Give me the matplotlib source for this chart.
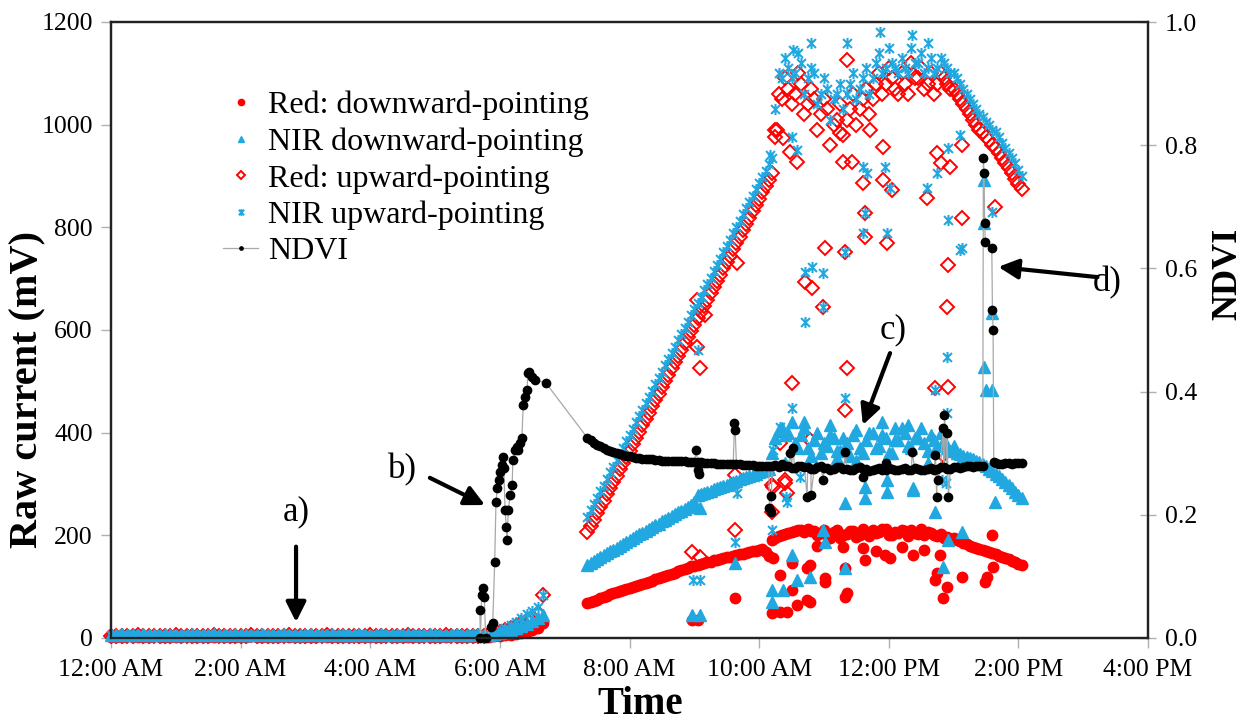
import numpy as np
import matplotlib.pyplot as plt
from matplotlib.path import Path
from matplotlib.lines import Line2D

plt.rcParams['font.family'] = ['Liberation Serif', 'DejaVu Serif']

# --- sampling instants (hours after midnight) ---
t_early = np.arange(81) / 12.0                     # every 5 min, 0:00 -> 6:40
t_day = np.round(7.35 + 0.05 * np.arange(135), 2)  # every 3 min, 7:21 -> 14:03

# --- night + dawn readings (mV) ---
red_down_early = [2, 2, 2, 3, 2, 2, 2, 2, 3, 2, 2, 2, 2, 2, 3, 2, 2, 2, 2, 2,
                  3, 2, 2, 2, 2, 2, 3, 2, 2, 2, 2, 2, 3, 2, 2, 2, 2, 2, 2, 3,
                  2, 2, 2, 2, 2, 3, 2, 2, 2, 2, 2, 3, 2, 2, 2, 2, 2, 2, 3, 2,
                  2, 2, 2, 3, 2, 2, 2, 2, 3, 2,
                  2, 3, 4, 5, 6, 8, 10, 12, 15, 20, 29]
nir_down_early = [6, 6, 7, 6, 6, 6, 7, 6, 6, 6, 7, 6, 6, 6, 6, 7, 6, 6, 6, 7,
                  6, 6, 6, 7, 6, 6, 6, 6, 7, 6, 6, 6, 7, 6, 6, 6, 6, 7, 6, 6,
                  6, 7, 6, 6, 6, 6, 7, 6, 6, 6, 7, 6, 6, 6, 6, 7, 6, 6, 6, 7,
                  6, 6, 6, 6, 7, 6, 6, 6, 7, 6,
                  6, 7, 9, 12, 15, 19, 23, 28, 33, 38, 45]
red_up_early = [4, 4, 3, 4, 4, 5, 4, 4, 3, 4, 4, 4, 5, 4, 4, 3, 4, 4, 4, 5,
                4, 4, 3, 4, 4, 4, 5, 4, 4, 4, 3, 4, 4, 5, 4, 4, 4, 3, 4, 4,
                5, 4, 4, 4, 3, 4, 4, 4, 5, 4, 4, 3, 4, 4, 4, 5, 4, 4, 4, 3,
                4, 4, 5, 4, 4, 4, 3, 4, 4, 4,
                8, 9, 11, 15, 19, 24, 29, 35, 41, 48, 84]
nir_up_early = [6, 7, 6, 6, 7, 6, 6, 6, 7, 6, 6, 7, 6, 6, 6, 7, 6, 6, 7, 6,
                6, 6, 7, 6, 6, 7, 6, 6, 6, 7, 6, 6, 7, 6, 6, 6, 7, 6, 6, 7,
                6, 6, 6, 7, 6, 6, 7, 6, 6, 6, 7, 6, 6, 7, 6, 6, 6, 7, 6, 6,
                7, 6, 6, 6, 7, 6, 6, 7, 6, 6,
                6, 10, 15, 20, 26, 32, 39, 46, 53, 60, 84]

# --- daytime readings (mV) on t_day ---
red_down_day = [68, 70, 73, 75, 78, 80, 82, 85, 87, 89,
                91, 94, 96, 98, 100, 102, 104, 106, 108, 110,
                112, 114, 116, 118, 120, 122, 124, 127, 130, 132,
                135, 137, 140, 141, 143, 145, 146, 148, 149, 151,
                152, 154, 155, 157, 158, 160, 161, 163, 164, 166,
                167, 169, 170, 172, 173, 168, 160, 190,
                195, 198, 200, 203, 205, 207, 208, 210, 210, 206,
                212, 208, 208, 200, 205, 210, 200, 195, 206, 210,
                195, 200, 203, 208, 208, 196, 200, 212, 205, 198,
                210, 204, 206, 212, 212, 200, 200, 207, 204, 210,
                208, 198, 210, 205, 203, 212, 200, 206, 205, 200,
                198, 202, 195, 196, 192, 194, 190, 188, 185, 183,
                180, 178, 176, 174, 172, 170, 168, 165, 163, 160,
                158, 155, 153, 150, 148, 145, 143]
nir_down_day = [142, 146, 150, 154, 157, 161, 165, 169, 172, 176,
                180, 184, 187, 191, 195, 199, 202, 205, 209, 213,
                216, 220, 223, 227, 230, 234, 237, 241, 245, 248,
                252, 256, 260, 264, 278, 280, 283, 285, 287, 290,
                292, 295, 297, 299, 301, 304, 306, 309, 311, 313,
                315, 318, 320, 323, 325, 328, 330, 360,
                390, 405, 410, 395, 400, 420, 380, 370, 395, 410,
                370, 355, 385, 400, 360, 380, 375, 395, 390, 365,
                365, 390, 380, 355, 395, 405, 370, 360, 385, 400,
                400, 370, 375, 395, 390, 360, 360, 385, 385, 410,
                400, 375, 370, 390, 390, 410, 380, 365, 395, 385,
                375, 400, 385, 370, 365, 375, 360, 358, 355, 352,
                350, 348, 345, 342, 338, 335, 330, 325, 320, 315,
                310, 304, 298, 292, 285, 278, 272]
red_up_day = [206, 218, 230, 243, 255, 267, 280, 292, 304, 316,
              329, 341, 353, 365, 378, 390, 402, 414, 427, 439,
              451, 463, 476, 488, 500, 512, 525, 537, 549, 561,
              574, 586, 598, 610, 623, 635, 647, 659, 672, 684,
              696, 708, 721, 733, 745, 757, 770, 782, 794, 806,
              819, 831, 843, 855, 868, 880, 892, 905,
              990, 1060, 1050, 1090, 1070, 1040, 1060, 1100, 1080, 1020,
              1040, 1070, 1050, 990, 1020, 1050, 1030, 960, 1000, 1010,
              1040, 980, 1010, 1030, 1060, 1000, 1030, 1050, 1070, 1020,
              1050, 1080, 1100, 1060, 1080, 1110, 1090, 1070, 1060, 1100,
              1080, 1060, 1120, 1090, 1090, 1110, 1070, 1080, 1100, 1060,
              1080, 1100, 1090, 1080, 1070, 1070, 1060, 1050, 1040, 1030,
              1020, 1010, 1000, 990, 985, 975, 970, 960, 955, 945,
              935, 925, 915, 905, 895, 885, 875]
nir_up_day = [236, 249, 261, 273, 286, 297, 310, 323, 334, 347,
              359, 371, 384, 396, 408, 420, 433, 445, 457, 469,
              482, 494, 506, 518, 531, 543, 555, 567, 580, 592,
              604, 616, 629, 641, 653, 665, 678, 690, 702, 714,
              727, 739, 751, 763, 776, 788, 800, 812, 825, 837,
              849, 861, 874, 886, 898, 910, 923, 935,
              1030, 1100, 1090, 1130, 1110, 1090, 1100, 1140, 1120, 1060,
              1090, 1110, 1100, 1040, 1060, 1090, 1070, 1010, 1050, 1060,
              1080, 1030, 1060, 1080, 1100, 1050, 1070, 1090, 1110, 1060,
              1090, 1120, 1140, 1100, 1110, 1150, 1120, 1110, 1100, 1130,
              1110, 1100, 1150, 1120, 1120, 1140, 1100, 1110, 1130, 1100,
              1110, 1130, 1120, 1110, 1100, 1100, 1090, 1080, 1070, 1060,
              1050, 1040, 1030, 1020, 1015, 1005, 1000, 990, 985, 975,
              965, 955, 945, 935, 925, 912, 900]

# --- scattered readings away from the main curves (hour, mV) ---
red_down_out_t = [8.97, 9.06, 9.63, 10.20, 10.32, 10.43, 10.59, 10.74, 10.79, 10.51,
                  10.32, 10.79, 10.74, 11.02, 11.02, 11.33, 11.36, 11.33, 10.22, 10.51,
                  11.64, 11.94, 12.02, 12.38, 12.75, 12.72, 12.90, 12.84, 13.13, 13.49,
                  13.61, 13.60, 13.52, 12.79, 11.30, 11.60, 10.90, 11.80, 12.20, 12.55]
red_down_out_v = [35, 35, 78, 49, 51, 51, 64, 74, 70, 94,
                  123, 142, 136, 117, 109, 80, 88, 136, 156, 146,
                  152, 162, 156, 162, 127, 113, 99, 78, 119, 109,
                  138, 201, 119, 162, 177, 175, 180, 170, 178, 172]
nir_down_out_t = [8.97, 9.09, 9.09, 9.63, 10.20, 10.20, 10.37, 10.59, 10.79, 10.51,
                  10.99, 11.02, 11.33, 11.33, 11.64, 11.98, 12.38, 12.72, 12.84, 12.92,
                  13.13, 11.64, 11.98, 12.38, 13.47, 13.47, 13.47, 13.50, 13.60, 13.60,
                  13.64, 10.40, 10.70, 11.10, 11.50, 11.90, 12.30, 12.60, 12.10, 11.20]
nir_down_out_v = [45, 45, 253, 146, 94, 70, 94, 113, 119, 162,
                  210, 187, 136, 263, 273, 284, 288, 245, 138, 191,
                  206, 294, 308, 292, 892, 808, 528, 483, 633, 483,
                  265, 340, 420, 415, 345, 420, 415, 340, 410, 350]
red_up_out_t = [8.97, 9.09, 9.04, 9.17, 9.04, 9.09, 9.63, 9.63, 9.66, 10.20,
                10.20, 10.22, 10.40, 10.43, 10.40, 10.32, 10.28, 10.25, 10.37, 10.48,
                10.59, 10.51, 10.71, 10.82, 10.79, 10.99, 11.02, 11.33, 11.33, 11.36,
                11.36, 11.60, 11.64, 11.64, 11.98, 11.91, 12.05, 12.59, 12.75, 12.95,
                12.84, 12.72, 12.92, 12.90, 12.92, 13.13, 13.13, 13.64, 11.25, 11.30,
                11.44, 11.91, 11.71, 12.80]
red_up_out_v = [168, 158, 658, 629, 567, 526, 318, 210, 730, 245,
                298, 294, 302, 282, 308, 380, 990, 976, 974, 947,
                927, 497, 694, 682, 386, 645, 760, 752, 444, 526,
                1126, 886, 828, 781, 769, 892, 873, 857, 945, 918,
                356, 487, 489, 645, 727, 818, 960, 840, 984, 927,
                927, 956, 990, 925]
nir_up_out_t = [8.98, 9.09, 9.06, 9.12, 9.63, 9.66, 10.20, 10.22, 10.32, 10.43,
                10.41, 10.51, 10.17, 10.51, 10.59, 10.71, 10.71, 10.99, 10.99, 10.82,
                10.63, 11.33, 11.33, 11.36, 11.60, 11.66, 11.64, 11.60, 11.98, 11.94,
                12.02, 12.59, 12.75, 12.92, 13.10, 12.92, 13.13, 13.10, 12.90, 12.72,
                12.90, 12.82, 12.88, 13.60, 10.52, 10.80, 11.87, 12.36, 12.60]
nir_up_out_v = [113, 113, 561, 664, 187, 282, 210, 366, 411, 265,
                275, 448, 941, 976, 951, 713, 616, 711, 645, 723,
                314, 752, 467, 1160, 918, 906, 828, 789, 789, 918,
                877, 877, 906, 955, 980, 814, 760, 756, 547, 483,
                438, 308, 302, 830, 1146, 1160, 1180, 1175, 1160]

# --- NDVI ---
ndvi_early_t = [5.69, 5.70, 5.72, 5.74, 5.76, 5.78, 5.87, 5.89, 5.92, 5.94,
                5.96, 5.99, 6.00, 6.03, 6.05, 6.06, 6.08, 6.10, 6.11, 6.13,
                6.16, 6.19, 6.20, 6.24, 6.27, 6.28, 6.31, 6.34, 6.36, 6.39,
                6.42, 6.43, 6.45, 6.50, 6.54, 6.71]
ndvi_early_v = [0.045, 0.0, 0.070, 0.081, 0.067, 0.0, 0.018, 0.024, 0.123, 0.221,
                0.243, 0.257, 0.270, 0.281, 0.294, 0.276, 0.208, 0.180, 0.159, 0.208,
                0.232, 0.248, 0.289, 0.305, 0.310, 0.305, 0.317, 0.325, 0.378, 0.391,
                0.403, 0.430, 0.432, 0.424, 0.419, 0.414]
ndvi_day = [0.325, 0.321, 0.317, 0.314, 0.311, 0.308, 0.306, 0.304, 0.302, 0.300,
            0.298, 0.297, 0.296, 0.295, 0.294, 0.293, 0.292, 0.291, 0.291, 0.290,
            0.290, 0.289, 0.289, 0.288, 0.288, 0.288, 0.288, 0.287, 0.287, 0.287,
            0.287, 0.286, 0.286, 0.285, 0.285, 0.285, 0.284, 0.284, 0.284, 0.284,
            0.283, 0.283, 0.283, 0.283, 0.282, 0.282, 0.282, 0.282, 0.281, 0.281,
            0.281, 0.281, 0.280, 0.280, 0.280, 0.280, 0.279, 0.279,
            0.281, 0.278, 0.283, 0.280, 0.279, 0.276, 0.276, 0.279, 0.280, 0.277,
            0.277, 0.274, 0.275, 0.278, 0.279, 0.276, 0.276, 0.273, 0.274, 0.277,
            0.278, 0.275, 0.275, 0.272, 0.273, 0.276, 0.277, 0.274, 0.274, 0.271,
            0.272, 0.275, 0.276, 0.273, 0.273, 0.276, 0.275, 0.272, 0.272, 0.275,
            0.276, 0.273, 0.273, 0.276, 0.275, 0.272, 0.272, 0.275, 0.276, 0.273,
            0.274, 0.277, 0.277, 0.275, 0.275, 0.278, 0.278, 0.276, 0.277, 0.279,
            0.279, 0.278, 0.279, 0.280, 0.280, np.nan, np.nan, np.nan, 0.284, 0.283,
            0.283, 0.284, 0.284, 0.283, 0.284, 0.284, 0.284]
ndvi_spike_t = [9.03, 9.05, 9.07, 9.62, 9.63, 10.16, 10.18, 10.19, 10.48, 10.52,
                10.74, 10.80, 10.99, 11.33, 11.60, 11.95, 12.36, 12.72, 12.74, 12.76,
                12.84, 12.86, 12.90, 12.92, 13.46, 13.47, 13.48, 13.49, 13.59, 13.60,
                13.61, 13.62]
ndvi_spike_v = [0.305, 0.273, 0.266, 0.349, 0.338, 0.211, 0.205, 0.230, 0.300, 0.308,
                0.229, 0.232, 0.256, 0.302, 0.261, 0.284, 0.302, 0.297, 0.229, 0.256,
                0.341, 0.362, 0.333, 0.229, 0.779, 0.755, 0.674, 0.643, 0.633, 0.532,
                0.500, 0.286]

tick_labels = ['12:00 AM', '2:00 AM', '4:00 AM', '6:00 AM', '8:00 AM',
               '10:00 AM', '12:00 PM', '2:00 PM', '4:00 PM']

RED = '#ff0000'
BLUE = '#22a8e0'

star = Path([(-1, -1), (1, 1), (-1, 1), (1, -1), (0, -1.25), (0, 1.25)],
            [Path.MOVETO, Path.LINETO, Path.MOVETO, Path.LINETO, Path.MOVETO, Path.LINETO])

fig = plt.figure(figsize=(12.58, 7.24), dpi=100)
ax = fig.add_axes([111 / 1258, 1 - 638 / 724, 1037 / 1258, 616 / 724])
ax2 = ax.twinx()


def series(early, day, out_t, out_v):
    t = np.concatenate([t_early, t_day, out_t])
    v = np.concatenate([early, day, out_v])
    return t, v


t, v = series(red_down_early, red_down_day, red_down_out_t, red_down_out_v)
h1, = ax.plot(t, v, 'o', color=RED, ms=7.5, mec=RED, clip_on=False, zorder=2)
t, v = series(nir_down_early, nir_down_day, nir_down_out_t, nir_down_out_v)
h2, = ax.plot(t, v, '^', color=BLUE, ms=8, mec=BLUE, clip_on=False, zorder=2.5)
t, v = series(red_up_early, red_up_day, red_up_out_t, red_up_out_v)
h3, = ax.plot(t, v, 'D', mfc='none', mec=RED, ms=7.5, mew=1.4, clip_on=False, zorder=2.2)
t, v = series(nir_up_early, nir_up_day, nir_up_out_t, nir_up_out_v)
h4, = ax.plot(t, v, ls='none', marker=star, mec=BLUE, ms=8, mew=1.5, clip_on=False,
              zorder=2.6)

nt = np.concatenate([ndvi_early_t, t_day, ndvi_spike_t])
nv = np.concatenate([ndvi_early_v, ndvi_day, ndvi_spike_v])
ok = np.isfinite(nv)
order = np.argsort(nt[ok], kind='stable')
ax2.plot(nt[ok][order], nv[ok][order], '-', color='#a8a8a8', lw=0.9)
ax2.plot(nt[ok][order], nv[ok][order], 'o', color='black', ms=6, clip_on=False)

# axes
ax.set_xlim(0, 16)
ax.set_ylim(0, 1200)
ax2.set_ylim(0, 1)
ax.set_xticks(np.arange(0, 17, 2))
ax.set_xticklabels(tick_labels)
ax.set_yticks(np.arange(0, 1201, 200))
ax2.set_yticks(np.arange(0, 1.01, 0.2))
ax2.set_yticklabels(['%.1f' % x for x in np.arange(0, 1.01, 0.2)])
ax.tick_params(axis='both', direction='out', length=7, width=1, color='#b0b0b0',
               labelsize=18.5, pad=6)
ax.tick_params(axis='x', pad=8)
ax2.tick_params(axis='y', direction='inout', length=12, width=1, color='#b0b0b0',
                labelsize=18.5, pad=6)
for a in (ax, ax2):
    for s in a.spines.values():
        s.set_linewidth(1.6)
        s.set_color('#222222')

fig.text(28 / 1258, 1 - 390 / 724, 'Raw current (mV)', rotation=90, ha='center',
         va='center', fontsize=29, fontweight='bold')
fig.text(1228 / 1258, 1 - 274 / 724, 'NDVI', rotation=90, ha='center',
         va='center', fontsize=26, fontweight='bold')
fig.text(640 / 1258, 1 - 705 / 724, 'Time', ha='center', va='center',
         fontsize=28, fontweight='bold')

# annotations
arrow = dict(arrowstyle='-|>', lw=3, color='black', mutation_scale=30, shrinkA=0, shrinkB=0)
ax.annotate('', xy=(2.855, 31), xytext=(2.855, 178), arrowprops=arrow)
ax.text(2.855, 245, 'a)', ha='center', va='center', fontsize=25)
ax.annotate('', xy=(5.77, 259), xytext=(4.92, 312), arrowprops=arrow)
ax.text(4.5, 327, 'b)', ha='center', va='center', fontsize=25)
ax.annotate('', xy=(11.6, 415), xytext=(12.02, 555), arrowprops=arrow)
ax.text(12.07, 600, 'c)', ha='center', va='center', fontsize=25)
ax.annotate('', xy=(13.69, 723), xytext=(15.22, 703), arrowprops=arrow)
ax.text(15.37, 692, 'd)', ha='center', va='center', fontsize=25)

# legend
ndvi_handle = Line2D([], [], color='#a8a8a8', lw=0.9, marker='o', mfc='black',
                     mec='black', ms=4)
handles = [h1, h2, h3, h4, ndvi_handle]
labels = ['Red: downward-pointing', 'NIR downward-pointing', 'Red: upward-pointing',
          'NIR upward-pointing', 'NDVI']
ax2.legend(handles, labels, loc='upper left', bbox_to_anchor=(0.108, 0.888),
           frameon=False, fontsize=23, handlelength=1.1, handletextpad=0.3,
           labelspacing=0.22, borderaxespad=0, borderpad=0, markerscale=0.6)

fig.savefig('out.png', dpi=100)
